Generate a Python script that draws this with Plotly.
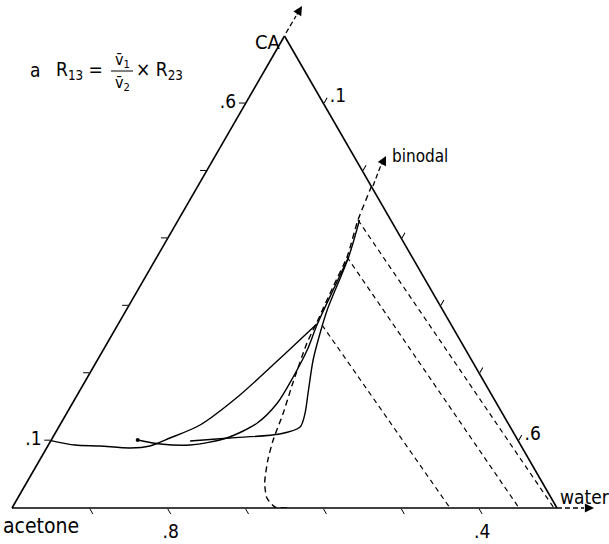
import plotly.graph_objects as go

# ---------------- data (mass fractions) ----------------
# axis ticks
ca_tickvals = [0.1, 0.2, 0.3, 0.4, 0.5, 0.6]
ca_ticktext = [".1", " ", " ", " ", " ", ".6"]
acetone_tickvals = [0.4, 0.5, 0.6, 0.7, 0.8, 0.9]
acetone_ticktext = [".4", " ", " ", " ", ".8", " "]
water_tickvals = [0.1, 0.2, 0.3, 0.4, 0.5, 0.6]
water_ticktext = [".1", " ", " ", " ", " ", ".6"]

# binodal (dashed) - part inside the displayed sub-triangle
binodal_ca = [0.0, 0.0015, 0.0148, 0.0371, 0.0712, 0.1009, 0.1409, 0.1854,
              0.2447, 0.2759, 0.3278, 0.3723, 0.4271, 0.4716, 0.4768]
binodal_water = [0.353, 0.337, 0.320, 0.306, 0.293, 0.285, 0.278, 0.268,
                 0.2565, 0.2538, 0.2484, 0.2442, 0.2308, 0.224, 0.2232]

# composition paths (solid)
pathA_ca = [0.100, 0.0934, 0.092, 0.089, 0.092, 0.1038, 0.1231, 0.1676, 0.2121, 0.2492, 0.2729]
pathA_water = [0.0, 0.0342, 0.067, 0.107, 0.131, 0.151, 0.180, 0.209, 0.229, 0.245, 0.255]

pathB_ca = [0.1009, 0.0949, 0.0934, 0.1038, 0.1261, 0.1557, 0.1943, 0.2343, 0.2714, 0.3278, 0.3723]
pathB_water = [0.111, 0.143, 0.182, 0.224, 0.252, 0.263, 0.264, 0.262, 0.256, 0.2504, 0.2462]

pathC_ca = [0.0994, 0.1038, 0.1097, 0.1201, 0.1409, 0.1706, 0.2195, 0.2595, 0.2937, 0.3723, 0.4271]
pathC_water = [0.179, 0.228, 0.289, 0.310, 0.306, 0.295, 0.277, 0.266, 0.258, 0.2462, 0.2328]

# tie lines (dashed): start on binodal, end on CA = 0 edge
tie_start_ca = [0.2714, 0.3723, 0.4271]
tie_start_water = [0.2625, 0.2441, 0.2308]
tie_end_water = [0.5626, 0.6512, 0.6961]


def acetone(ca, w):
    return [1 - x - y for x, y in zip(ca, w)]


fig = go.Figure()

fig.add_trace(go.Scatterternary(
    a=binodal_ca, b=acetone(binodal_ca, binodal_water), c=binodal_water,
    mode="lines", line=dict(color="black", width=1.4, dash="6px,4px", shape="spline", smoothing=0.6),
    showlegend=False, hoverinfo="skip"))

for ca, w in [(pathA_ca, pathA_water), (pathB_ca, pathB_water), (pathC_ca, pathC_water)]:
    fig.add_trace(go.Scatterternary(
        a=ca, b=acetone(ca, w), c=w,
        mode="lines", line=dict(color="black", width=1.4, shape="spline", smoothing=0.8),
        showlegend=False, hoverinfo="skip"))

# start dot of the middle path
fig.add_trace(go.Scatterternary(
    a=pathB_ca[:1], b=acetone(pathB_ca[:1], pathB_water[:1]), c=pathB_water[:1],
    mode="markers", marker=dict(color="black", size=4),
    showlegend=False, hoverinfo="skip"))

for sa, sw, ew in zip(tie_start_ca, tie_start_water, tie_end_water):
    ca = [sa, 0.0]
    w = [sw, ew]
    fig.add_trace(go.Scatterternary(
        a=ca, b=acetone(ca, w), c=w,
        mode="lines", line=dict(color="black", width=1.2, dash="5px,4px"),
        showlegend=False, hoverinfo="skip"))

FONT = "DejaVu Sans Condensed, DejaVu Sans"
W, H = 609, 544


def px(x, y):
    return x / W, 1 - y / H


axis_common = dict(showgrid=False, showline=True, linecolor="black", linewidth=1.6,
                   ticks="outside", ticklen=6, tickcolor="black", tickwidth=1.2,
                   tickmode="array", tickfont=dict(family=FONT, size=19, color="black"),
                   title=dict(text=""))

dx0, dy0 = px(12, 508)
dx1, dy1 = px(557, 36)
fig.update_layout(
    width=W, height=H,
    margin=dict(l=0, r=0, t=0, b=0),
    paper_bgcolor="white",
    font=dict(family=FONT, color="black"),
    ternary=dict(
        sum=1,
        domain=dict(x=[dx0, dx1], y=[dy0, dy1]),
        bgcolor="white",
        aaxis=dict(min=0, tickvals=ca_tickvals, ticktext=ca_ticktext, **axis_common),
        baxis=dict(min=0.3, tickvals=acetone_tickvals, ticktext=acetone_ticktext, **axis_common),
        caxis=dict(min=0, tickvals=water_tickvals, ticktext=water_ticktext, **axis_common),
    ),
)

shapes = []
# dashed arrow shafts (CA axis, water axis, binodal continuation outside the triangle)
for (x0, y0, x1, y1) in [(286, 33, 296, 16), (557, 508, 584, 508), (373, 186, 381, 165)]:
    X0, Y0 = px(x0, y0)
    X1, Y1 = px(x1, y1)
    shapes.append(dict(type="line", xref="paper", yref="paper", x0=X0, y0=Y0, x1=X1, y1=Y1,
                       line=dict(color="black", width=1.3, dash="5px,3px")))
# fraction bar
X0, Y0 = px(111, 71)
X1, Y1 = px(133, 71)
shapes.append(dict(type="line", xref="paper", yref="paper", x0=X0, y0=Y0, x1=X1, y1=Y1,
                   line=dict(color="black", width=1)))
fig.update_layout(shapes=shapes)

annos = []
# arrow heads
for (hx, hy, ax, ay) in [(302, 6, -6, 10), (594, 508, -10, 0), (386, 156, -5, 10)]:
    X, Y = px(hx, hy)
    annos.append(dict(x=X, y=Y, xref="paper", yref="paper", text="", showarrow=True,
                      ax=ax, ay=ay, arrowhead=2, arrowsize=1.4, arrowwidth=1.3,
                      arrowcolor="black", standoff=0))


def label(text, x, y, size=20, xanchor="center"):
    X, Y = px(x, y)
    annos.append(dict(x=X, y=Y, xref="paper", yref="paper", text=text, showarrow=False,
                      xanchor=xanchor, yanchor="middle",
                      font=dict(family=FONT, size=size, color="black")))


label("CA", 268, 42, size=20)
label("acetone", 1, 526, size=21, xanchor="left")
label("water", 558, 497, size=19, xanchor="left")
label("binodal", 390, 156, size=17, xanchor="left")
label("a", 35, 70, size=19)
label("R<sub>13</sub> =", 54, 70, size=19, xanchor="left")
label("v\u0304<sub>1</sub>", 122, 60, size=16)
label("v\u0304<sub>2</sub>", 122, 83, size=16)
label("\u00d7 R<sub>23</sub>", 134, 70, size=19, xanchor="left")
fig.update_layout(annotations=annos)

fig.write_html("out.html", config={"displayModeBar": False},
               post_script="document.body.style.margin='0px';")
